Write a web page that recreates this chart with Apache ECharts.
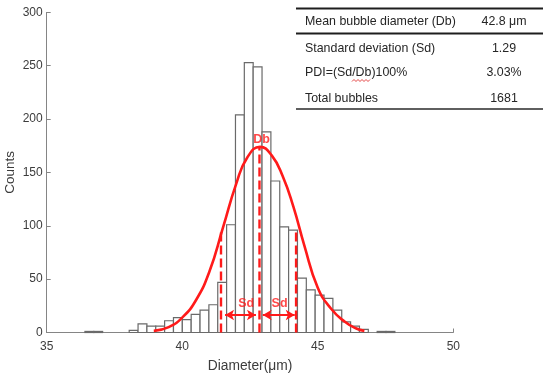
<!DOCTYPE html>
<html><head><meta charset="utf-8">
<script src="https://cdn.jsdelivr.net/npm/echarts@6/dist/echarts.min.js"></script>
<style>html,body{margin:0;padding:0;background:#fff}#c{width:550px;height:378px}</style>
</head><body><div id="c"></div>
<script>
// ---- data ----
const binStart = 36.41;          // lower edge of first bin (μm)
const binWidth = 0.3267;         // bin width (μm)
const counts = [1,1,0,0,0,2,8,6,6,11,14,12,17,21,26,47,101,204,253,249,188,142,99,96,51,40,35,32,21,10,6,3,0,1,1];
const fitX = [38.95,39.5,40.0,40.5,41.0,41.5,42.0,42.4,42.87,43.3,43.7,44.1,44.5,45.0,45.5,46.0,46.4,46.72];
const fitY = [1.5,5,14,30,57,98,140,164,174,166,147,118,82,42,22,10,4,1.5];
const markerX = [41.43, 42.85, 44.2];     // Db - Sd, Db, Db + Sd
const markerTop = [97, 173, 96];
const arrowY = 16.4;
const arrows = [[41.58, 42.72], [42.97, 44.15]];
const labelText = ['Db', 'Sd', 'Sd'];
const labelPos = [[42.93, 181], [42.36, 27.4], [43.59, 27.4]];
const xTicks = {min: 35, max: 50, interval: 5};
const yTicks = {min: 0, max: 300, interval: 50};
const tableRows = [
  ['Mean bubble diameter (Db)', '42.8 μm'],
  ['Standard deviation (Sd)', '1.29'],
  ['PDI=(Sd/Db)100%', '3.03%'],
  ['Total bubbles', '1681']
];

const chart = echarts.init(document.getElementById('c'));
const axisGray = '#858585';
const textGray = '#3c3c3c';
const red = '#ff1a1a';

const histData = counts.map((c, i) => [binStart + i * binWidth, binStart + (i + 1) * binWidth, c]);

const series = [];
series.push({
  type: 'custom',
  data: histData,
  encode: {x: [0, 1], y: 2},
  renderItem: function (params, api) {
    const x0 = api.value(0), x1 = api.value(1), c = api.value(2);
    if (!c) return null;
    const p0 = api.coord([x0, c]);
    const p1 = api.coord([x1, 0]);
    return {
      type: 'rect',
      shape: {x: p0[0], y: p0[1], width: p1[0] - p0[0], height: p1[1] - p0[1]},
      style: {fill: '#fff', stroke: '#6a6a6a', lineWidth: 1.2}
    };
  },
  z: 2
});
series.push({
  type: 'line',
  data: fitX.map((x, i) => [x, fitY[i]]),
  smooth: 0.5,
  symbol: 'none',
  lineStyle: {color: red, width: 2.6},
  z: 4
});
markerX.forEach((x, i) => {
  series.push({
    type: 'line',
    data: [[x, 0], [x, markerTop[i]]],
    symbol: 'none',
    lineStyle: {color: red, width: 2.4, type: [9, 4]},
    z: 5
  });
});
series.push({
  type: 'line',
  data: [],
  symbol: 'none',
  markLine: {
    silent: true,
    symbol: ['arrow', 'arrow'],
    symbolSize: [8, 9],
    label: {show: false},
    lineStyle: {color: red, width: 2, type: 'solid'},
    data: arrows.map(a => [{coord: [a[0], arrowY]}, {coord: [a[1], arrowY]}])
  },
  z: 5
});
series.push({
  type: 'scatter',
  data: labelPos.map((p, i) => ({value: p, name: labelText[i]})),
  symbolSize: 0,
  label: {
    show: true, position: 'inside', formatter: p => p.name,
    color: red, fontWeight: 'bold', fontSize: 12.5, fontFamily: 'Liberation Sans'
  },
  z: 6
});

const graphic = [];
const tx0 = 296, tx1 = 543;
graphic.push({type: 'line', shape: {x1: tx0, y1: 8.5, x2: tx1, y2: 8.5}, style: {stroke: '#1e1e1e', lineWidth: 2}});
graphic.push({type: 'line', shape: {x1: tx0, y1: 33.5, x2: tx1, y2: 33.5}, style: {stroke: '#1e1e1e', lineWidth: 2}});
graphic.push({type: 'line', shape: {x1: tx0, y1: 109, x2: tx1, y2: 109}, style: {stroke: '#2a2a2a', lineWidth: 1.3}});
const rowY = [22, 48.3, 72.7, 98.3];
tableRows.forEach((r, i) => {
  graphic.push({type: 'text', x: 305, y: rowY[i], style: {text: r[0], font: '12.4px "Liberation Sans"', fill: '#262626', textAlign: 'left', textVerticalAlign: 'middle', align: 'left', verticalAlign: 'middle'}});
  graphic.push({type: 'text', x: 504, y: rowY[i], style: {text: r[1], font: '12.4px "Liberation Sans"', fill: '#262626', textAlign: 'center', textVerticalAlign: 'middle', align: 'center', verticalAlign: 'middle'}});
});
// spell-check squiggle under "Db"
const sq = [];
for (let k = 0; k <= 9; k++) sq.push([352 + k * 2, k % 2 ? 79.5 : 81.5]);
graphic.push({type: 'polyline', shape: {points: sq}, style: {stroke: '#e03030', lineWidth: 0.9, fill: null}});

chart.setOption({
  animation: false,
  backgroundColor: '#fff',
  grid: {left: 46.7, right: 96.7, top: 12.4, bottom: 45.5, containLabel: false, outerBoundsMode: 'none'},
  xAxis: {
    type: 'value', min: xTicks.min, max: xTicks.max, interval: xTicks.interval,
    axisLine: {show: true, lineStyle: {color: axisGray, width: 1}},
    axisTick: {show: true, inside: true, length: 4, lineStyle: {color: axisGray}},
    axisLabel: {color: textGray, fontSize: 12, fontFamily: 'Liberation Sans', margin: 8},
    splitLine: {show: false},
    name: 'Diameter(μm)', nameLocation: 'middle', nameGap: 27, nameMoveOverlap: false,
    nameTextStyle: {color: textGray, fontSize: 13.8, fontFamily: 'Liberation Sans'}
  },
  yAxis: {
    type: 'value', min: yTicks.min, max: yTicks.max, interval: yTicks.interval,
    axisLine: {show: true, lineStyle: {color: axisGray, width: 1}},
    axisTick: {show: true, inside: true, length: 4, lineStyle: {color: axisGray}},
    axisLabel: {color: textGray, fontSize: 12, fontFamily: 'Liberation Sans', margin: 4},
    splitLine: {show: false},
    name: 'Counts', nameLocation: 'middle', nameGap: 29, nameMoveOverlap: false,
    nameTextStyle: {color: textGray, fontSize: 13.5, fontFamily: 'Liberation Sans'}
  },
  series: series,
  graphic: graphic
});
</script></body></html>
